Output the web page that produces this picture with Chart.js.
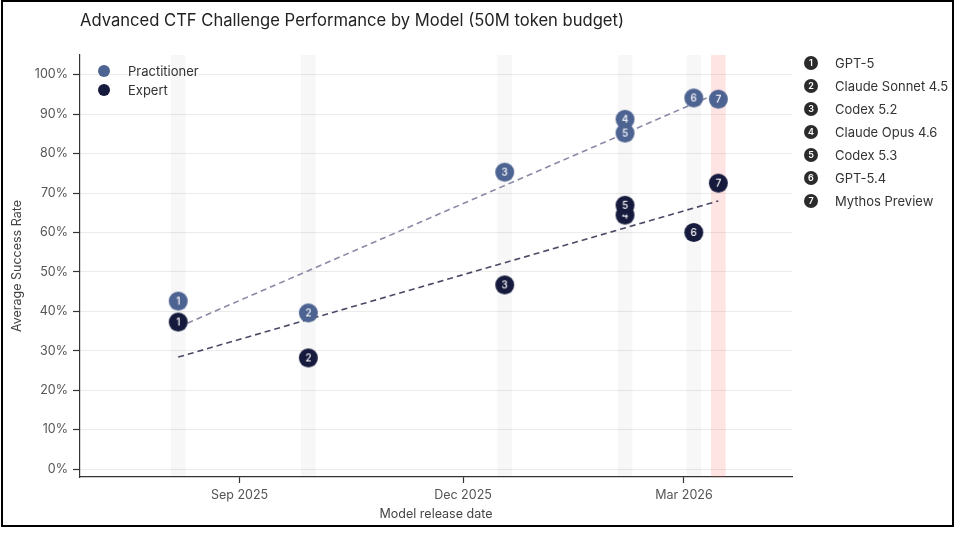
<!DOCTYPE html>
<html><head><meta charset="utf-8">
<script src="https://cdn.jsdelivr.net/npm/chart.js@4.4.1/dist/chart.umd.min.js"></script>
<style>
html,body{margin:0;padding:0;background:#fff;}
#wrap{position:relative;width:960px;height:535px;font-family:Inter,"Noto Sans",sans-serif;overflow:hidden;}
#c{position:absolute;left:0;top:0;}
#frame{position:absolute;left:1px;top:0;width:949px;height:523px;border:2px solid #000;pointer-events:none;}
#title{position:absolute;left:80px;top:10px;line-height:20px;font-size:16.6px;color:#222;white-space:nowrap;}
.item{position:absolute;height:18px;line-height:18px;font-size:13px;color:#333;white-space:nowrap;}
.dot{position:absolute;border-radius:50%;}
.badge{position:absolute;width:14px;height:14px;border-radius:50%;background:#2b2b2b;color:#fff;font-size:9px;font-weight:600;line-height:14px;text-align:center;}
</style>
</head><body>
<div id="wrap">
<canvas id="c" width="960" height="535"></canvas>
<div id="title">Advanced CTF Challenge Performance by Model (50M token budget)</div>
<div id="legendSeries"></div>
<div id="legendModels"></div>
<div id="frame"></div>
</div>
<script>
// ---- data ----
const modelNames = ['GPT-5','Claude Sonnet 4.5','Codex 5.2','Claude Opus 4.6','Codex 5.3','GPT-5.4','Mythos Preview'];
const releaseDates = ['2025-08-07','2025-09-29','2025-12-18','2026-02-05','2026-02-05','2026-03-05','2026-03-15'];
const practitionerRates = [42.6, 39.6, 75.3, 88.7, 85.2, 94.1, 93.8];
const expertRates = [37.3, 28.2, 46.7, 64.4, 66.9, 60.0, 72.5];
const trendDates = ['2025-08-07','2026-03-15'];
const practitionerTrend = [36.0, 95.4];
const expertTrend = [28.4, 68.0];
const highlightModel = 'Mythos Preview';
const seriesNames = ['Practitioner','Expert'];
const xTickDates = ['2025-09-01','2025-12-01','2026-03-01'];
const xTickLabels = ['Sep 2025','Dec 2025','Mar 2026'];
const xRangeDates = ['2025-06-28','2026-04-14'];
const yTickValues = [0,10,20,30,40,50,60,70,80,90,100];
const yRange = [-2, 105];

// ---- styling ----
const practitionerColor = '#4d6391';
const expertColor = '#161a3d';
const practitionerTrendColor = '#8a8aa6';
const expertTrendColor = '#4a4a66';
const FONT = 'Inter';

const EPOCH = Date.parse('2025-09-01');
const dayNum = s => (Date.parse(s) - EPOCH) / 86400000;

function makeBadge(num, color) {
  const r = 9.5, s = 21;
  const c = document.createElement('canvas');
  c.width = s; c.height = s;
  const g = c.getContext('2d');
  g.fillStyle = color;
  g.beginPath(); g.arc(s/2, s/2, r, 0, Math.PI*2); g.fill();
  g.fillStyle = '#fff';
  g.font = '500 10px ' + FONT;
  g.textAlign = 'center'; g.textBaseline = 'middle';
  g.fillText(String(num), s/2, s/2 + 0.5);
  return c;
}

const bandPlugin = {
  id: 'bands',
  beforeDatasetsDraw(chart) {
    const {ctx, chartArea: a, scales: {x}} = chart;
    const seen = new Set();
    ctx.save();
    releaseDates.forEach((d, i) => {
      if (seen.has(d)) return; seen.add(d);
      const v = dayNum(d);
      const x0 = x.getPixelForValue(v - 3), x1 = x.getPixelForValue(v + 3);
      ctx.fillStyle = modelNames[i] === highlightModel ? 'rgba(255,90,90,0.16)' : 'rgba(0,0,0,0.03)';
      ctx.fillRect(x0, a.top, x1 - x0, a.bottom - a.top);
    });
    ctx.restore();
  }
};

function pts(vals) { return vals.map((v, i) => ({x: dayNum(releaseDates[i]), y: v})); }
function tpts(vals) { return vals.map((v, i) => ({x: dayNum(trendDates[i]), y: v})); }

new Chart(document.getElementById('c'), {
  type: 'scatter',
  data: {
    datasets: [
      {label: seriesNames[0], data: pts(practitionerRates), order: 0,
       pointStyle: practitionerRates.map((_, i) => makeBadge(i+1, practitionerColor)),
       pointRadius: 9.5, backgroundColor: practitionerColor},
      {label: seriesNames[1], data: pts(expertRates), order: 0,
       pointStyle: expertRates.map((_, i) => makeBadge(i+1, expertColor)),
       pointRadius: 9.5, backgroundColor: expertColor},
      {label: 'pt', data: tpts(practitionerTrend), order: 1, showLine: true, pointRadius: 0,
       borderColor: practitionerTrendColor, borderWidth: 1.6, borderDash: [6, 4]},
      {label: 'et', data: tpts(expertTrend), order: 1, showLine: true, pointRadius: 0,
       borderColor: expertTrendColor, borderWidth: 1.6, borderDash: [6, 4]}
    ]
  },
  plugins: [bandPlugin],
  options: {
    responsive: false, animation: false, events: [],
    layout: {padding: {left: 0, top: 55, right: 168, bottom: 0}},
    plugins: {legend: {display: false}, tooltip: {enabled: false}},
    scales: {
      x: {
        type: 'linear', min: dayNum(xRangeDates[0]), max: dayNum(xRangeDates[1]),
        afterBuildTicks: s => { s.ticks = xTickDates.map(d => ({value: dayNum(d)})); },
        afterFit: s => { s.height = 58; },
        ticks: {
          autoSkip: false, maxRotation: 0, padding: 5, color: '#555',
          font: {family: FONT, size: 12.5},
          callback: v => { const i = xTickDates.findIndex(d => dayNum(d) === v); return i >= 0 ? xTickLabels[i] : ''; }
        },
        grid: {drawOnChartArea: false, tickLength: 6, tickColor: '#333', tickWidth: 1.2},
        border: {color: '#333', width: 1.2},
        title: {display: true, text: 'Model release date', color: '#444',
                font: {family: FONT, size: 12.5}, padding: {top: 0, bottom: 13}}
      },
      y: {
        min: yRange[0], max: yRange[1],
        afterBuildTicks: s => { s.ticks = yTickValues.map(v => ({value: v})); },
        afterFit: s => { s.width = 80; },
        ticks: {padding: 5, color: '#555', font: {family: FONT, size: 12.5}, callback: v => v + '%'},
        grid: {color: '#ebebeb', lineWidth: 1, tickLength: 7, tickColor: '#333', tickWidth: 1.2},
        border: {color: '#333', width: 1.2},
        title: {display: true, text: 'Average Success Rate', color: '#444',
                font: {family: FONT, size: 12.5}, padding: {top: 10, bottom: 0}}
      }
    }
  }
});

// ---- legends (HTML text) ----
const ls = document.getElementById('legendSeries');
[practitionerColor, expertColor].forEach((col, i) => {
  const top = 62 + i * 19;
  const dot = document.createElement('div');
  dot.className = 'dot';
  dot.style.cssText = `left:98px;top:${top+3}px;width:12px;height:12px;background:${col}`;
  ls.appendChild(dot);
  const t = document.createElement('div');
  t.className = 'item';
  t.style.cssText = `left:128px;top:${top}px`;
  t.textContent = seriesNames[i];
  ls.appendChild(t);
});
const lm = document.getElementById('legendModels');
modelNames.forEach((n, i) => {
  const cy = 63 + i * 23;
  const b = document.createElement('div');
  b.className = 'badge';
  b.style.left = '804px'; b.style.top = (cy - 7) + 'px';
  b.textContent = String(i + 1);
  lm.appendChild(b);
  const t = document.createElement('div');
  t.className = 'item';
  t.style.cssText = `left:835px;top:${cy-9}px`;
  t.textContent = n;
  lm.appendChild(t);
});
</script>
</body></html>
